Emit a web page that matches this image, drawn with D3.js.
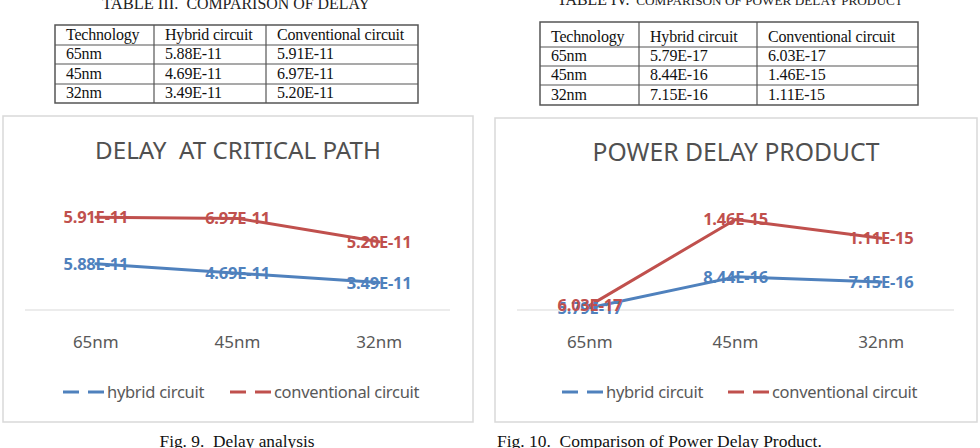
<!DOCTYPE html>
<html>
<head>
<meta charset="utf-8">
<script src="https://cdn.jsdelivr.net/npm/d3@7"></script>
<style>
  body { margin: 0; background: #fff; }
  svg { display: block; }
  text { white-space: pre; }
</style>
</head>
<body>
<div id="page"></div>
<script>
// chart data
const categories = ["65nm", "45nm", "32nm"];
const seriesNames = ["hybrid circuit", "conventional circuit"];
const delayHybrid = [5.88e-11, 4.69e-11, 3.49e-11];
const delayConventional = [5.91e-11, 6.97e-11, 5.20e-11];
const pdpHybrid = [5.79e-17, 8.44e-16, 7.15e-16];
const pdpConventional = [6.03e-17, 1.46e-15, 1.11e-15];
const tableHeader = ["Technology", "Hybrid circuit", "Conventional circuit"];

const colors = ["#4F81BD", "#C0504D"];
const sans = "'Noto Sans', 'Open Sans', sans-serif";
const serif = "'Liberation Serif', 'DejaVu Serif', serif";
const fmt = v => d3.format(".2e")(v).toUpperCase();

const W = 980, H = 448;
const svg = d3.select("#page").append("svg")
    .attr("width", W)
    .attr("height", H);

// scale a text element's font so it spans the given width
function fitWidth(sel, target) {
    const node = sel.node();
    const len = node.getComputedTextLength();
    if (len <= 0) return;
    const k = target / len;
    sel.attr("font-size", parseFloat(sel.attr("font-size")) * k);
    sel.selectAll("tspan").each(function() {
        const t = d3.select(this);
        t.attr("font-size", parseFloat(t.attr("font-size")) * k);
    });
}

// ---------- tables ----------
function drawTable(cfg) {
    const g = svg.append("g");
    const rows = [tableHeader].concat(categories.map((c, i) =>
        [c, fmt(cfg.hybrid[i]), fmt(cfg.conventional[i])]));

    const cap = g.append("text")
        .attr("x", cfg.captionX)
        .attr("y", cfg.captionY)
        .attr("text-anchor", "middle")
        .attr("font-family", serif)
        .attr("font-size", 15)
        .attr("fill", "#222");
    cap.append("tspan").attr("font-size", 15).text(cfg.captionHead);
    cap.append("tspan").attr("font-size", cfg.captionSmall).text(cfg.captionRest);
    fitWidth(cap, cfg.captionWidth);

    const cx = cfg.cols, ry = cfg.rows;
    g.append("rect")
        .attr("x", cx[0]).attr("y", ry[0])
        .attr("width", cx[cx.length - 1] - cx[0])
        .attr("height", ry[ry.length - 1] - ry[0])
        .attr("fill", "none")
        .attr("stroke", "#555")
        .attr("stroke-width", 1.5);
    g.selectAll(".hline").data(ry.slice(1, -1)).join("line")
        .attr("x1", cx[0]).attr("x2", cx[cx.length - 1])
        .attr("y1", d => d).attr("y2", d => d)
        .attr("stroke", "#555").attr("stroke-width", 1.2);
    g.selectAll(".vline").data(cx.slice(1, -1)).join("line")
        .attr("x1", d => d).attr("x2", d => d)
        .attr("y1", ry[0]).attr("y2", ry[ry.length - 1])
        .attr("stroke", "#555").attr("stroke-width", 1.2);

    rows.forEach((row, r) => {
        row.forEach((cell, c) => {
            g.append("text")
                .attr("x", cx[c] + 11)
                .attr("y", ry[r + 1] - 5)
                .attr("font-family", serif)
                .attr("font-size", 16)
                .attr("letter-spacing", -0.2)
                .attr("fill", "#111")
                .text(cell);
        });
    });
}

drawTable({
    hybrid: delayHybrid, conventional: delayConventional,
    captionX: 236, captionY: 9, captionWidth: 268,
    captionHead: "TABLE III.", captionRest: "  COMPARISON OF DELAY", captionSmall: 14.5,
    cols: [55, 154, 266, 418],
    rows: [25, 45, 64, 84, 103]
});
drawTable({
    hybrid: pdpHybrid, conventional: pdpConventional,
    captionX: 730, captionY: 5, captionWidth: 346,
    captionHead: "TABLE IV.", captionRest: "  COMPARISON OF POWER DELAY PRODUCT", captionSmall: 12.5,
    cols: [540, 639, 757, 918],
    rows: [22, 47, 66, 85, 105]
});

// ---------- charts ----------
function drawChart(cfg) {
    const g = svg.append("g");

    g.append("rect")
        .attr("x", cfg.box[0]).attr("y", cfg.box[1])
        .attr("width", cfg.box[2]).attr("height", cfg.box[3])
        .attr("fill", "#fff")
        .attr("stroke", "#d9d9d9")
        .attr("stroke-width", 1.5);

    const title = g.append("text")
        .attr("x", cfg.box[0] + cfg.box[2] / 2)
        .attr("y", cfg.titleY)
        .attr("text-anchor", "middle")
        .attr("font-family", sans)
        .attr("font-size", 24)
        .attr("fill", "#505050")
        .text(cfg.title);
    fitWidth(title, cfg.titleWidth);

    const x = d3.scalePoint()
        .domain(categories)
        .range(cfg.xRange)
        .padding(0.5);
    const y = d3.scaleLinear()
        .domain([0, cfg.yMax])
        .range([310, 200]);

    // stacked line chart, as in the original spreadsheet
    const table = categories.map((c, i) => ({
        cat: c, hybrid: cfg.hybrid[i], conventional: cfg.conventional[i]
    }));
    const stack = d3.stack().keys(["hybrid", "conventional"])(table);

    // category axis (line only, no ticks)
    g.append("line")
        .attr("x1", cfg.xRange[0]).attr("x2", cfg.xRange[1])
        .attr("y1", y(0)).attr("y2", y(0))
        .attr("stroke", "#d9d9d9")
        .attr("stroke-width", 1.2);

    g.selectAll(".cat").data(categories).join("text")
        .attr("class", "cat")
        .attr("x", d => x(d))
        .attr("y", 348)
        .attr("text-anchor", "middle")
        .attr("font-family", sans)
        .attr("font-size", 17)
        .attr("fill", "#595959")
        .text(d => d);

    const line = d3.line()
        .x(d => x(d.data.cat))
        .y(d => y(d[1]));

    g.selectAll(".series").data(stack).join("path")
        .attr("class", "series")
        .attr("d", line)
        .attr("fill", "none")
        .attr("stroke", (d, i) => colors[i])
        .attr("stroke-width", 3)
        .attr("stroke-linejoin", "round")
        .attr("stroke-linecap", "round");

    stack.forEach((s, i) => {
        g.selectAll(".lbl" + i).data(s).join("text")
            .attr("class", "lbl" + i)
            .attr("x", d => x(d.data.cat))
            .attr("y", d => y(d[1]))
            .attr("dy", "0.36em")
            .attr("text-anchor", "middle")
            .attr("font-family", sans)
            .attr("font-size", 16.5)
            .attr("letter-spacing", -0.2)
            .attr("font-weight", "bold")
            .attr("fill", colors[i])
            .text(d => fmt(d.data[s.key]));
    });

    // legend
    seriesNames.forEach((name, i) => {
        const lx = cfg.legendX[i];
        g.append("line")
            .attr("x1", lx).attr("x2", lx + 41)
            .attr("y1", 392).attr("y2", 392)
            .attr("stroke", colors[i])
            .attr("stroke-width", 3)
            .attr("stroke-dasharray", "16,9");
        g.append("text")
            .attr("x", lx + 44)
            .attr("y", 392)
            .attr("dy", "0.35em")
            .attr("font-family", sans)
            .attr("font-size", 16.5)
            .attr("letter-spacing", -0.3)
            .attr("fill", "#595959")
            .text(name);
    });
}

drawChart({
    title: "DELAY  AT CRITICAL PATH",
    titleY: 159, titleWidth: 286,
    box: [3, 116, 470, 306],
    xRange: [25, 450],
    yMax: 14e-11,
    hybrid: delayHybrid, conventional: delayConventional,
    legendX: [63, 230]
});
drawChart({
    title: "POWER DELAY PRODUCT",
    titleY: 161, titleWidth: 287,
    box: [495, 118, 482, 304],
    xRange: [517, 954],
    yMax: 2.8e-15,
    hybrid: pdpHybrid, conventional: pdpConventional,
    legendX: [562, 728]
});

// ---------- figure captions ----------
const fig9 = svg.append("text")
    .attr("x", 237).attr("y", 447)
    .attr("text-anchor", "middle")
    .attr("font-family", serif)
    .attr("font-size", 17)
    .attr("fill", "#111")
    .text("Fig. 9.  Delay analysis");
fitWidth(fig9, 155);
const fig10 = svg.append("text")
    .attr("x", 497).attr("y", 447)
    .attr("font-family", serif)
    .attr("font-size", 17)
    .attr("fill", "#111")
    .text("Fig. 10.  Comparison of Power Delay Product.");
fitWidth(fig10, 325);
</script>
</body>
</html>
